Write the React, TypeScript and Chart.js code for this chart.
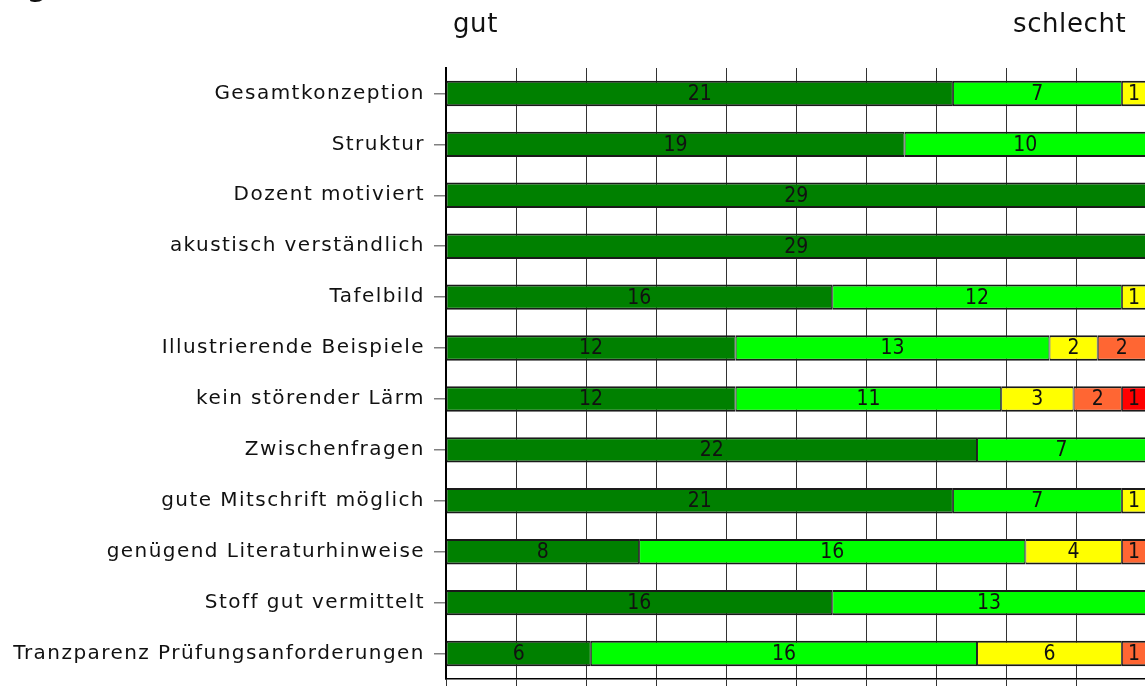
import React, { useEffect, useRef } from 'react';
import { Chart, registerables } from 'chart.js';

Chart.register(...registerables);

const categories = [
  'Gesamtkonzeption',
  'Struktur',
  'Dozent motiviert',
  'akustisch verständlich',
  'Tafelbild',
  'Illustrierende Beispiele',
  'kein störender Lärm',
  'Zwischenfragen',
  'gute Mitschrift möglich',
  'genügend Literaturhinweise',
  'Stoff gut vermittelt',
  'Tranzparenz Prüfungsanforderungen',
];

const seriesNames = ['1', '2', '3', '4', '5'];
const grade1 = [21, 19, 29, 29, 16, 12, 12, 22, 21, 8, 16, 6];
const grade2 = [7, 10, 0, 0, 12, 13, 11, 7, 7, 16, 13, 16];
const grade3 = [1, 0, 0, 0, 1, 2, 3, 0, 1, 4, 0, 6];
const grade4 = [0, 0, 0, 0, 0, 2, 2, 0, 0, 1, 0, 1];
const grade5 = [0, 0, 0, 0, 0, 0, 1, 0, 0, 0, 0, 0];
const seriesColors = ['#008000', '#00ff00', '#ffff00', '#ff6633', '#ff0000'];

const axisMax = 29;
const gridCount = 11;
const headerLeft = 'gut';
const headerRight = 'schlecht';

export default function App() {
  const canvasRef = useRef<HTMLCanvasElement | null>(null);

  useEffect(() => {
    const canvas = canvasRef.current;
    if (!canvas) return;

    const valueLabels = {
      id: 'valueLabels',
      beforeDraw(chart: any) {
        chart.ctx.letterSpacing = '1.45px';
      },
      afterDatasetsDraw(chart: any) {
        const ctx = chart.ctx;
        ctx.save();
        ctx.letterSpacing = '0px';
        ctx.font = '21px "DejaVu Sans Condensed", "DejaVu Sans", sans-serif';
        ctx.fillStyle = '#111';
        ctx.textAlign = 'center';
        ctx.textBaseline = 'middle';
        chart.data.datasets.forEach((ds: any, i: number) => {
          const meta = chart.getDatasetMeta(i);
          meta.data.forEach((bar: any, j: number) => {
            const v = ds.data[j];
            if (!v) return;
            const p = bar.getProps(['x', 'y', 'base'], true);
            ctx.fillText(String(v), (p.x + p.base) / 2, p.y + 1);
          });
        });
        ctx.restore();
      },
      afterDraw(chart: any) {
        const ctx = chart.ctx;
        ctx.save();
        ctx.fillStyle = '#111';
        ctx.textAlign = 'left';
        ctx.textBaseline = 'alphabetic';
        ctx.letterSpacing = '0.6px';
        ctx.font = '26px "DejaVu Sans", sans-serif';
        ctx.fillText(headerLeft, 453, 32);
        ctx.fillText(headerRight, 1013, 32);
        ctx.letterSpacing = '0px';
        ctx.font = 'bold 28px "DejaVu Sans", sans-serif';
        ctx.fillText('g', 27, -4);
        ctx.restore();
      },
    };

    const chart = new Chart(canvas, {
      type: 'bar',
      data: {
        labels: categories,
        datasets: [grade1, grade2, grade3, grade4, grade5].map((d, i) => ({
          label: seriesNames[i],
          data: d,
          backgroundColor: seriesColors[i],
          borderColor: '#1a1a1a',
          borderWidth: { top: 2, bottom: 2, left: 1, right: 1 },
          borderSkipped: false,
          categoryPercentage: 1,
          barPercentage: 0.5,
        })),
      },
      options: {
        indexAxis: 'y',
        responsive: false,
        animation: false,
        devicePixelRatio: 1,
        layout: { padding: { top: 68, right: 14, left: 0, bottom: 0 } },
        plugins: {
          legend: { display: false },
          tooltip: { enabled: false },
          title: { display: false },
        },
        scales: {
          x: {
            stacked: true,
            min: 0,
            max: axisMax,
            ticks: { display: false, count: gridCount },
            grid: { color: '#333', lineWidth: 1, drawTicks: true, tickLength: 20 },
            border: { display: true, color: '#000', width: 1.5 },
          },
          y: {
            stacked: true,
            grid: {
              offset: false,
              drawOnChartArea: false,
              drawTicks: true,
              tickLength: 12,
              color: '#808080',
              lineWidth: 1.5,
            },
            border: { display: true, color: '#000', width: 2 },
            ticks: {
              padding: 9,
              color: '#111',
              autoSkip: false,
              font: { size: 20, family: '"DejaVu Sans", sans-serif' },
            },
            afterFit: (s: any) => {
              s.width = 446;
            },
          },
        },
      },
      plugins: [valueLabels],
    } as any);

    return () => chart.destroy();
  }, []);

  return (
    <div
      style={{
        position: 'fixed',
        left: 0,
        top: 0,
        width: 1145,
        height: 686,
        overflow: 'hidden',
        background: '#fff',
      }}
    >
      <canvas ref={canvasRef} width={1160} height={700} style={{ display: 'block' }} />
    </div>
  );
}
